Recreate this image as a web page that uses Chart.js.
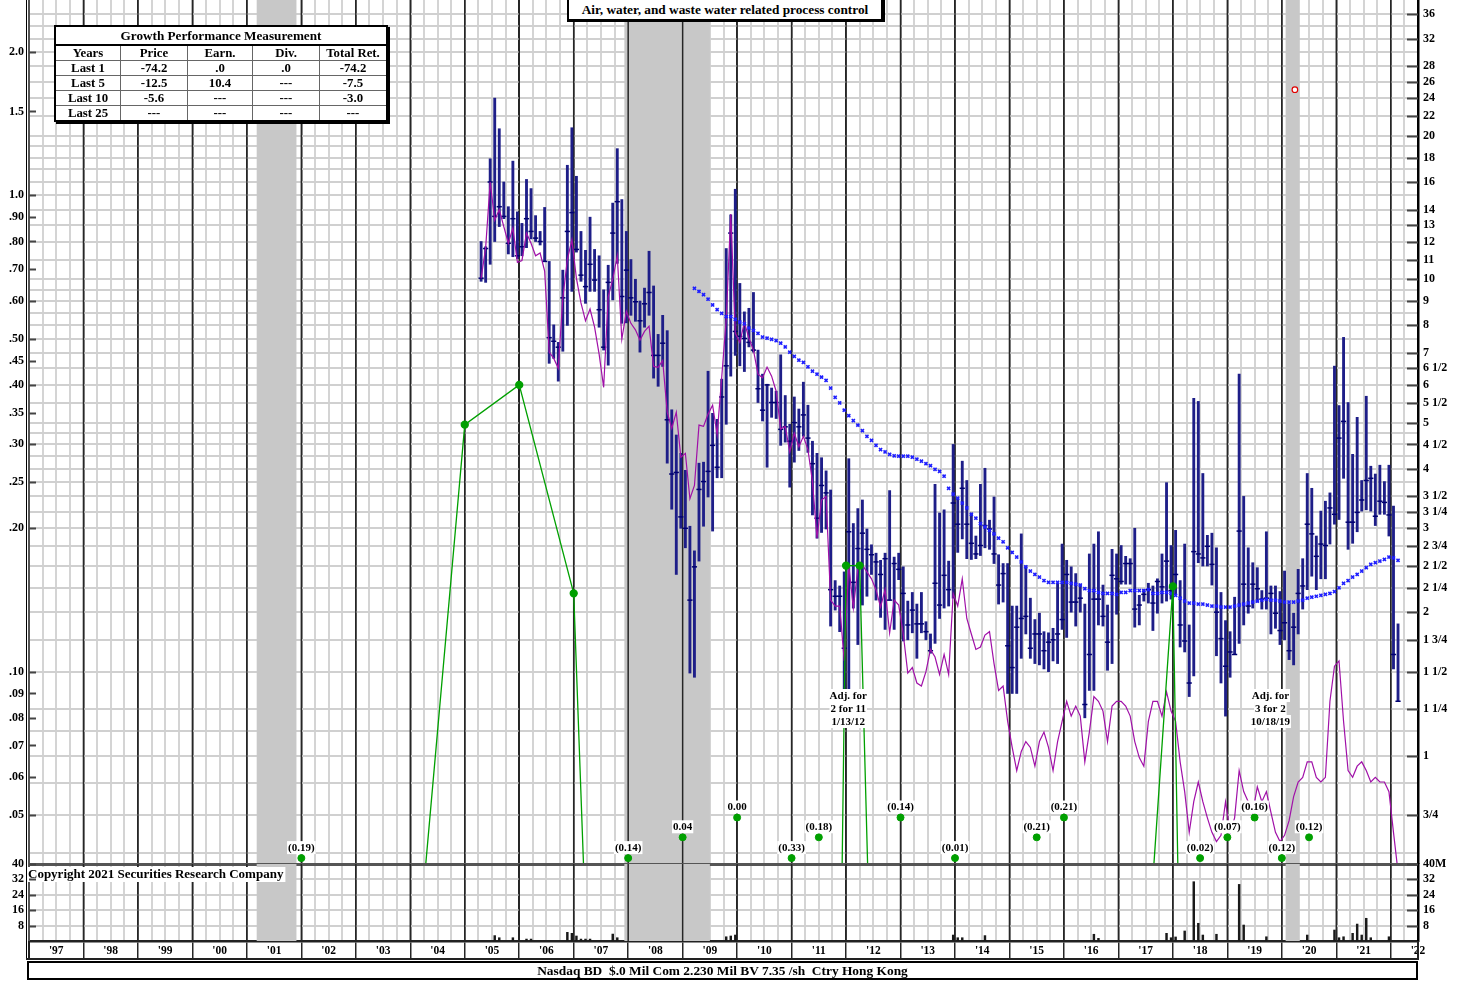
<!DOCTYPE html>
<html>
<head>
<meta charset="utf-8">
<script src="https://cdn.jsdelivr.net/npm/chart.js@4.4.0/dist/chart.umd.min.js"></script>
<style>
body { margin: 0; background: #fff; width: 1470px; height: 983px; overflow: hidden; position: relative; font-family: "Liberation Serif", "Times New Roman", serif; }
#price { position: absolute; left: 0; top: 0; }
#vol { position: absolute; left: 0; top: 850px; }
#title { position: absolute; left: 567px; top: -3px; width: 312px; height: 20px; border: 2px solid #000; border-right-width: 4px; border-bottom-width: 3px; background: #fff; font-weight: bold; font-size: 13.3px; text-align: center; line-height: 22px; }
#perf { position: absolute; left: 54px; top: 25px; border-collapse: collapse; background: #fff; font-weight: bold; font-size: 12.8px; border: 2px solid #000; box-shadow: 2px 2px 0 #000; }
#perf td { border: 1.5px solid #666; padding: 0; height: 14px; line-height: 14px; text-align: center; }
#perf td.head { height: 17px; line-height: 17px; font-size: 13.2px; border-bottom: 2px solid #000; }
#footer { position: absolute; left: 27px; top: 961px; width: 1387px; height: 15px; border: 2px solid #000; font-weight: bold; font-size: 13.4px; text-align: center; line-height: 16px; white-space: pre; }
</style>
</head>
<body>
<canvas id="price" width="1470" height="864"></canvas>
<canvas id="vol" width="1470" height="133"></canvas>
<div id="title">Air, water, and waste water related process control</div>
<table id="perf"></table>
<div id="footer">Nasdaq BD  $.0 Mil Com 2.230 Mil BV 7.35 /sh  Ctry Hong Kong</div>
<script>
// monthly bars start at Apr 2005
const firstMonth = 2005.30;

const priceHigh = [
  12.0, 11.7, 17.9, 24.0, 20.7, 16.0, 14.2, 17.7, 13.85, 13.1,
  16.2, 15.5, 13.6, 12.6, 14.15, 10.9, 8.02, 7.37, 10.45, 17.35,
  20.8, 16.45, 12.6, 11.5, 13.5, 11.55, 11.2, 9.5, 10.7, 14.45,
  18.8, 14.7, 12.6, 11.0, 10.0, 9.0, 9.58, 11.45, 9.68, 7.66,
  8.4, 7.8, 5.32, 4.71, 4.31, 3.97, 3.03, 2.69, 4.11, 4.13,
  6.41, 5.23, 5.08, 6.17, 11.6, 13.65, 15.45, 9.8, 8.54, 8.69,
  9.38, 7.1, 6.32, 6.02, 5.91, 5.82, 6.94, 5.7, 4.96, 5.66,
  5.34, 6.08, 5.44, 4.57, 4.31, 4.22, 3.96, 3.61, 2.33, 2.27,
  2.43, 4.2, 3.07, 3.3, 3.44, 2.99, 2.77, 2.66, 2.57, 2.66,
  3.6, 2.61, 2.66, 2.49, 2.11, 2.2, 2.08, 2.2, 1.91, 1.8,
  3.71, 3.23, 3.28, 2.56, 4.5, 3.47, 4.15, 3.78, 3.23, 2.89,
  3.71, 4.01, 3.12, 3.49, 2.64, 2.53, 2.53, 2.06, 2.06, 2.92,
  2.5, 2.14, 1.93, 1.99, 1.82, 1.81, 1.85, 2.3, 2.78, 2.57,
  2.49, 2.41, 2.29, 2.08, 2.65, 2.78, 2.95, 2.28, 2.07, 2.71,
  2.65, 2.76, 2.62, 2.59, 3.0, 2.17, 2.23, 2.3, 2.27, 2.35,
  2.65, 3.74, 2.76, 2.97, 2.33, 2.78, 1.88, 5.62, 5.54, 3.91,
  2.9, 2.93, 2.73, 2.2, 1.92, 1.82, 2.15, 6.32, 3.5, 2.73,
  2.54, 2.48, 2.22, 2.95, 2.27, 2.27, 2.21, 2.44, 2.08, 1.99,
  2.46, 2.59, 3.91, 3.64, 2.89, 3.26, 3.42, 3.56, 6.57, 5.43,
  7.55, 5.51, 4.29, 5.13, 3.78, 5.68, 4.05, 3.9, 4.07, 3.76,
  4.07, 3.34, 1.89
];
const priceLow = [
  9.9, 9.85, 10.75, 12.0, 12.9, 13.4, 11.3, 11.15, 11.05, 11.2,
  11.65, 12.15, 12.0, 11.8, 10.9, 6.66, 6.82, 6.11, 7.06, 8.0,
  9.43, 11.4, 9.9, 8.9, 9.43, 9.43, 7.93, 7.1, 6.6, 9.05,
  10.8, 8.08, 8.1, 8.4, 8.16, 7.03, 7.93, 8.4, 6.2, 5.96,
  6.56, 4.11, 3.29, 2.4, 3.0, 2.73, 1.49, 1.46, 2.56, 3.03,
  3.49, 2.96, 3.83, 3.83, 4.96, 6.26, 6.92, 6.58, 6.4, 7.21,
  7.03, 5.51, 5.04, 4.03, 5.13, 5.1, 4.48, 4.55, 3.66, 4.13,
  4.37, 4.68, 4.33, 3.2, 2.86, 2.94, 2.99, 1.87, 2.02, 1.82,
  1.37, 1.37, 2.04, 1.71, 2.07, 2.16, 2.4, 2.12, 1.95, 1.84,
  2.12, 1.84, 2.34, 1.74, 1.75, 1.81, 1.6, 1.81, 1.75, 1.64,
  1.72, 1.94, 2.04, 2.06, 2.14, 2.67, 2.85, 2.59, 2.58, 2.59,
  2.63, 2.73, 2.71, 2.53, 2.08, 2.1, 1.35, 1.35, 1.35, 1.6,
  1.8, 1.6, 1.56, 1.55, 1.52, 1.5, 1.58, 1.56, 1.84, 1.77,
  2.0, 1.87, 2.0, 1.2, 1.37, 1.37, 1.88, 1.87, 1.51, 1.56,
  1.98, 2.29, 2.29, 2.29, 1.86, 1.88, 2.11, 2.09, 1.83, 1.99,
  2.09, 2.11, 2.13, 2.18, 1.69, 1.65, 1.33, 1.47, 2.54, 2.5,
  2.5, 2.28, 1.62, 1.42, 1.21, 1.46, 1.63, 1.72, 1.88, 1.99,
  2.04, 2.1, 2.03, 2.03, 1.8, 1.85, 1.71, 1.75, 1.59, 1.55,
  1.8, 2.03, 2.23, 2.38, 2.23, 2.35, 2.35, 2.78, 3.06, 3.13,
  3.82, 2.71, 2.79, 2.95, 3.26, 3.28, 3.26, 3.04, 3.21, 3.21,
  2.89, 1.52, 1.3
];
const priceClose = [
  10.05, 11.6, 16.0, 13.55, 14.2, 13.55, 11.9, 13.4, 11.2, 11.7,
  13.4, 12.6, 12.2, 12.0, 10.9, 7.54, 7.41, 7.2, 9.14, 12.6,
  13.8, 11.55, 10.2, 9.65, 10.75, 9.96, 8.63, 7.2, 9.85, 12.5,
  14.55, 9.2, 10.45, 9.14, 8.97, 8.18, 8.88, 9.38, 6.92, 6.92,
  7.34, 5.07, 3.9, 3.93, 3.17, 3.0, 2.12, 2.49, 3.62, 3.76,
  3.95, 4.48, 4.03, 5.66, 6.58, 12.5, 7.77, 7.59, 7.51, 7.37,
  7.1, 5.89, 5.31, 6.0, 5.51, 5.51, 4.84, 4.9, 4.57, 5.0,
  4.9, 5.19, 4.64, 4.1, 3.15, 3.69, 3.56, 2.23, 2.16, 2.16,
  1.68, 2.95, 2.31, 2.72, 2.93, 2.71, 2.64, 2.55, 2.4, 2.59,
  2.12, 2.53, 2.46, 2.19, 1.88, 2.02, 1.89, 1.89, 1.82, 1.66,
  2.3, 2.07, 2.39, 2.23, 3.39, 3.06, 3.64, 3.06, 2.79, 2.65,
  2.76, 3.04, 2.99, 2.65, 2.28, 2.41, 1.7, 1.53, 1.86, 1.94,
  1.96, 1.68, 1.8, 1.8, 1.66, 1.73, 1.75, 1.8, 1.93, 2.4,
  2.1, 2.1, 2.14, 1.28, 1.63, 2.13, 2.13, 1.96, 1.73, 2.39,
  2.35, 2.32, 2.53, 2.53, 2.03, 2.07, 2.18, 2.23, 2.09, 2.32,
  2.26, 2.56, 2.22, 2.4, 1.88, 1.74, 1.42, 2.68, 2.65, 2.6,
  2.75, 2.52, 2.0, 1.76, 1.54, 1.65, 1.63, 2.96, 2.29, 2.06,
  2.29, 2.24, 2.13, 2.14, 2.19, 1.99, 1.83, 1.9, 1.66, 1.86,
  2.19, 2.27, 3.06, 2.92, 2.62, 2.78, 2.76, 3.31, 3.21, 4.64,
  5.03, 3.09, 3.09, 3.24, 3.44, 3.78, 3.82, 3.18, 3.42, 3.4,
  3.2, 1.63, 1.3
];
// relative strength line, same months
const relStrength = [
  10.04, 11.64, 16.0, 13.3, 14.0, 12.9, 11.9, 12.8, 10.85, 10.95,
  12.5, 11.9, 11.2, 11.35, 10.4, 7.03, 6.82, 6.5, 9.12, 11.0,
  12.1, 10.04, 8.92, 8.18, 8.66, 7.93, 6.96, 5.93, 9.18, 10.0,
  11.2, 7.48, 8.56, 8.08, 7.83, 7.45, 7.77, 7.97, 6.56, 6.53,
  6.75, 5.26, 4.86, 5.26, 4.23, 4.31, 3.46, 3.69, 4.94, 4.91,
  5.21, 5.44, 4.72, 6.21, 8.24, 13.7, 7.7, 7.37, 8.12, 7.52,
  7.1, 6.32, 6.21, 6.54, 6.26, 5.82, 4.85, 4.91, 4.34, 4.75,
  4.45, 4.68, 4.39, 3.76, 2.86, 3.44, 3.5, 2.12, 2.06, 2.06,
  1.58, 2.51, 2.04, 2.47, 2.51, 2.43, 2.35, 2.23, 2.05, 2.23,
  1.81, 2.12, 2.07, 1.8, 1.49, 1.53, 1.42, 1.4, 1.5, 1.67,
  1.61, 1.48, 1.63, 1.48, 2.19, 2.06, 2.35, 1.94, 1.8, 1.67,
  1.69, 1.79, 1.82, 1.56, 1.37, 1.4, 1.18, 1.04, 0.93, 1.02,
  1.07, 1.04, 0.95, 1.07, 1.12, 1.04, 0.93, 1.07, 1.18, 1.3,
  1.21, 1.27, 1.21, 0.97, 1.12, 1.33, 1.3, 1.24, 1.07, 1.27,
  1.3, 1.3, 1.27, 1.21, 1.07, 0.99, 0.95, 1.18, 1.3, 1.3,
  1.21, 1.36, 1.24, 1.18, 0.97, 0.84, 0.69, 0.8, 0.88, 0.8,
  0.74, 0.69, 0.66, 0.68, 0.8, 0.69, 0.74, 0.93, 0.84, 0.8,
  0.76, 0.86, 0.8, 0.84, 0.76, 0.69, 0.66, 0.68, 0.73, 0.82,
  0.88, 0.9, 0.97, 0.97, 0.9, 0.88, 0.9, 1.3, 1.54, 1.58,
  1.18, 0.93, 0.9, 0.95, 0.97, 0.93, 0.88, 0.9, 0.88, 0.88,
  0.84, 0.69, 0.57
];
// moving average (blue x), starts at month index 47
const maStart = 47;
const movingAvg = [
  9.57, 9.43, 9.28, 9.08, 8.83, 8.63, 8.48, 8.35, 8.35, 8.24,
  8.13, 8.06, 7.9, 7.81, 7.7, 7.56, 7.52, 7.48, 7.43, 7.34,
  7.21, 7.03, 6.89, 6.76, 6.69, 6.55, 6.41, 6.32, 6.23, 6.13,
  5.91, 5.65, 5.5, 5.31, 5.17, 5.05, 4.94, 4.81, 4.68, 4.59,
  4.48, 4.39, 4.34, 4.29, 4.26, 4.25, 4.25, 4.25, 4.23, 4.19,
  4.15, 4.1, 4.06, 3.99, 3.95, 3.86, 3.64, 3.54, 3.47, 3.39,
  3.31, 3.21, 3.15, 3.07, 3.02, 2.97, 2.92, 2.86, 2.81, 2.73,
  2.67, 2.61, 2.55, 2.49, 2.44, 2.4, 2.37, 2.33, 2.31, 2.31,
  2.31, 2.31, 2.31, 2.3, 2.29, 2.28, 2.24, 2.22, 2.22, 2.2,
  2.19, 2.19, 2.19, 2.18, 2.2, 2.2, 2.22, 2.22, 2.22, 2.22,
  2.23, 2.19, 2.19, 2.2, 2.2, 2.19, 2.17, 2.14, 2.11, 2.09,
  2.09, 2.08, 2.08, 2.07, 2.06, 2.06, 2.05, 2.05, 2.05, 2.06,
  2.07, 2.08, 2.09, 2.1, 2.11, 2.12, 2.13, 2.12, 2.12, 2.11,
  2.1, 2.1, 2.1, 2.11, 2.12, 2.14, 2.15, 2.16, 2.17, 2.18,
  2.19, 2.21, 2.25, 2.3, 2.33, 2.37, 2.4, 2.44, 2.48, 2.52,
  2.54, 2.56, 2.58, 2.61, 2.6, 2.57
];
// volume (millions of shares), only visible bars
const volMonth = [3, 4, 7, 10, 11, 19, 20, 21, 22, 23, 24, 29, 30, 54, 55, 56, 104, 105, 106, 111, 135, 136, 151, 152, 153, 155, 157, 158, 159, 162, 167, 168, 173, 182, 188, 189, 190, 192, 193, 194, 195, 196, 200];
const volMil = [2.8, 1.7, 1.7, 1.0, 1.0, 4.5, 4.0, 2.6, 1.0, 1.0, 1.0, 3.6, 1.7, 2.2, 2.6, 3.1, 3.1, 1.7, 1.7, 2.8, 3.5, 1.4, 4.0, 1.7, 2.1, 5.2, 30.8, 9.2, 3.1, 3.5, 29.4, 8.3, 2.2, 3.1, 5.7, 1.7, 2.2, 4.0, 8.8, 3.1, 11.8, 1.7, 2.2];

// earnings line (left scale); values under the scale floor run off the bottom
const epsLineYears = [2004.0, 2005.0, 2006.0, 2007.0, 2008.0, 2011.5, 2012.0, 2012.25, 2012.5, 2017.5, 2018.0, 2018.5];
const epsLineValues = [0.017, 0.33, 0.40, 0.146, 0.0001, 0.000007, 0.167, 0.167, 0.014, 0.022, 0.151, 0.00009];
// earnings notes shown at the bottom of the price panel
const epsYears = [2002.0, 2008.0, 2009.0, 2010.0, 2011.0, 2011.5, 2013.0, 2014.0, 2015.5, 2016.0, 2018.5, 2019.0, 2019.5, 2020.0, 2020.5];
const epsLabels = ['(0.19)', '(0.14)', '0.04', '0.00', '(0.33)', '(0.18)', '(0.14)', '(0.01)', '(0.21)', '(0.21)', '(0.02)', '(0.07)', '(0.16)', '(0.12)', '(0.12)'];
const epsLane = [0, 0, 1, 2, 0, 1, 2, 0, 1, 2, 0, 1, 2, 0, 1];

const recStart = [2001.18, 2007.93, 2020.07];
const recEnd = [2001.91, 2009.50, 2020.33];

const markYears = [2020.24];
const markValues = [25.0];

const splitYears = [2012.04, 2019.79];
const splitText = [['Adj. for', '2 for 11', '1/13/12'], ['Adj. for', '3 for 2', '10/18/19']];

const leftTickValues = [2.0, 1.5, 1.0, 0.9, 0.8, 0.7, 0.6, 0.5, 0.45, 0.4, 0.35, 0.3, 0.25, 0.2, 0.1, 0.09, 0.08, 0.07, 0.06, 0.05];
const leftTickLabels = ['2.0', '1.5', '1.0', '.90', '.80', '.70', '.60', '.50', '.45', '.40', '.35', '.30', '.25', '.20', '.10', '.09', '.08', '.07', '.06', '.05'];
const rightTickValues = [36, 32, 28, 26, 24, 22, 20, 18, 16, 14, 13, 12, 11, 10, 9, 8, 7, 6.5, 6, 5.5, 5, 4.5, 4, 3.5, 3.25, 3, 2.75, 2.5, 2.25, 2, 1.75, 1.5, 1.25, 1, 0.75];
const rightTickLabels = ['36', '32', '28', '26', '24', '22', '20', '18', '16', '14', '13', '12', '11', '10', '9', '8', '7', '6 1/2', '6', '5 1/2', '5', '4 1/2', '4', '3 1/2', '3 1/4', '3', '2 3/4', '2 1/2', '2 1/4', '2', '1 3/4', '1 1/2', '1 1/4', '1', '3/4'];
const rightGridExtra = [34, 30, 19, 17, 15, 9.5, 8.5, 7.5, 4.75, 4.25, 3.75, 1.125, 0.875, 0.625];
const volTickValues = [8, 16, 24, 32, 40];

const perfYears = ['Last 1', 'Last 5', 'Last 10', 'Last 25'];
const perfPrice = ['-74.2', '-12.5', '-5.6', '---'];
const perfEarn = ['.0', '10.4', '---', '---'];
const perfDiv = ['.0', '---', '---', '---'];
const perfTotal = ['-74.2', '-7.5', '-3.0', '---'];

// ---- table
let html = '<tr><td class="head" colspan="5">Growth Performance Measurement</td></tr>';
html += '<tr><td style="width:64px">Years</td><td style="width:66px">Price</td><td style="width:64px">Earn.</td><td style="width:66px">Div.</td><td style="width:66px">Total Ret.</td></tr>';
perfYears.forEach((y, i) => {
  html += `<tr><td>${y}</td><td>${perfPrice[i]}</td><td>${perfEarn[i]}</td><td>${perfDiv[i]}</td><td>${perfTotal[i]}</td></tr>`;
});
document.getElementById('perf').innerHTML = html;

// ---- helpers
const FONT = '"Liberation Serif", "Times New Roman", serif';
const AXIS_FONT = {family: FONT, size: 12, weight: 'bold', lineHeight: 0.01};
const xYear = k => firstMonth + k / 12;
const isYear = v => Math.abs(v - Math.round(v)) < 1e-6;
const isMid = v => Math.abs(v - Math.floor(v) - 0.5) < 1e-6;
const quarterTicks = [];
for (let q = 0; q <= 102; q++) quarterTicks.push(1997 + q * 0.25);
const epsLaneValue = [0.0406, 0.0449, 0.0494];

const gridColor = c => isYear(c.tick.value) ? '#262626' : '#d4d4d4';
const gridWidth = c => isYear(c.tick.value) ? 1.5 : 2;

function noPad(s) {
  s.paddingTop = 0; s.paddingBottom = 0; s.paddingLeft = 0; s.paddingRight = 0;
}

function boxedText(ctx, text, cx, cy, font) {
  ctx.font = font;
  const w = ctx.measureText(text).width;
  ctx.fillStyle = '#fff';
  ctx.fillRect(cx - w / 2 - 1, cy - 7, w + 2, 13);
  ctx.fillStyle = '#000';
  ctx.textAlign = 'center';
  ctx.textBaseline = 'middle';
  ctx.fillText(text, cx, cy);
}

function shadeRecessions(chart) {
  const {ctx, chartArea: a, scales: {x}} = chart;
  ctx.save();
  ctx.fillStyle = '#c8c8c8';
  recStart.forEach((s, i) => {
    const x0 = x.getPixelForValue(s);
    const x1 = x.getPixelForValue(recEnd[i]);
    ctx.fillRect(x0, a.top, x1 - x0, a.bottom - a.top);
  });
  ctx.strokeStyle = '#262626';
  ctx.lineWidth = 1.5;
  for (let yr = 1998; yr <= 2022; yr++) {
    const px = x.getPixelForValue(yr);
    ctx.beginPath();
    ctx.moveTo(px, a.top);
    ctx.lineTo(px, a.bottom);
    ctx.stroke();
  }
  ctx.restore();
}

function inwardTicks(ctx, scale, values, side, a, len) {
  ctx.save();
  ctx.strokeStyle = '#444';
  ctx.lineWidth = 2;
  values.forEach(v => {
    const py = Math.round(scale.getPixelForValue(v)) + 0.5;
    ctx.beginPath();
    if (side === 'left') { ctx.moveTo(a.left, py); ctx.lineTo(a.left + len, py); }
    else { ctx.moveTo(a.right - len, py); ctx.lineTo(a.right, py); }
    ctx.stroke();
  });
  ctx.restore();
}

const priceDecor = {
  id: 'priceDecor',
  beforeDatasetsDraw(chart) { shadeRecessions(chart); },
  afterDatasetsDraw(chart) {
    const {ctx, scales: {x, yE}} = chart;
    ctx.save();
    const f = 'bold 11px ' + FONT;
    epsYears.forEach((yr, i) => {
      const px = x.getPixelForValue(yr);
      const py = yE.getPixelForValue(epsLaneValue[epsLane[i]]);
      boxedText(ctx, epsLabels[i], px, py - 10, f);
    });
    splitYears.forEach((yr, i) => {
      const px = x.getPixelForValue(yr);
      splitText[i].forEach((t, j) => boxedText(ctx, t, px, 696 + j * 13, f));
    });
    ctx.restore();
  },
  afterDraw(chart) {
    const {ctx, chartArea: a, scales: {yE, yP}} = chart;
    inwardTicks(ctx, yE, leftTickValues, 'left', a, 7);
    inwardTicks(ctx, yP, rightTickValues, 'right', a, 11);
    ctx.save();
    ctx.strokeStyle = '#000';
    ctx.lineWidth = 1;
    ctx.beginPath();
    ctx.moveTo(26.5, 0);
    ctx.lineTo(26.5, a.bottom);
    ctx.stroke();
    ctx.restore();
  }
};

const priceChart = new Chart(document.getElementById('price'), {
  type: 'bar',
  data: {
    datasets: [
      {
        type: 'scatter', yAxisID: 'yE',
        data: epsYears.map((yr, i) => ({x: yr, y: epsLaneValue[epsLane[i]]})),
        pointRadius: 3.5, pointBackgroundColor: '#00a000', pointBorderColor: '#00a000'
      },
      {
        type: 'line', yAxisID: 'yE',
        data: epsLineYears.map((yr, i) => ({x: yr, y: epsLineValues[i]})),
        borderColor: '#00a000', borderWidth: 1.3,
        pointRadius: c => (c.raw && c.raw.y > 0.04 ? 3.5 : 0),
        pointBackgroundColor: '#00a000', pointBorderColor: '#00a000'
      },
      {
        type: 'scatter', yAxisID: 'yP',
        data: markYears.map((yr, i) => ({x: yr, y: markValues[i]})),
        pointRadius: 2.8, pointBorderColor: '#e00000', pointBackgroundColor: '#fff', pointBorderWidth: 1.2
      },
      {
        type: 'scatter', yAxisID: 'yP',
        data: movingAvg.map((v, i) => ({x: xYear(maStart + i), y: v})),
        pointStyle: 'crossRot', pointRadius: 2.2, pointBorderColor: '#1e1eff', pointBorderWidth: 1.6
      },
      {
        type: 'line', yAxisID: 'yP',
        data: relStrength.map((v, k) => ({x: xYear(k), y: v})),
        borderColor: '#a010a8', borderWidth: 1.2, pointRadius: 0
      },
      {
        type: 'scatter', yAxisID: 'yP',
        data: priceClose.map((v, k) => ({x: xYear(k), y: v})),
        pointStyle: 'line', pointRadius: 2.6, pointBorderColor: '#000070', pointBorderWidth: 1.5
      },
      {
        type: 'bar', yAxisID: 'yP',
        data: priceHigh.map((h, k) => ({x: xYear(k), y: [priceLow[k], h]})),
        backgroundColor: '#1e1e88', barThickness: 2.2, borderWidth: 0
      }
    ]
  },
  options: {
    responsive: false, animation: false, devicePixelRatio: 1,
    layout: {padding: 0, autoPadding: false},
    plugins: {legend: {display: false}, tooltip: {enabled: false}},
    scales: {
      x: {
        type: 'linear', min: 1997, max: 2022.5, offset: false,
        afterBuildTicks: s => { s.ticks = quarterTicks.map(v => ({value: v})); },
        afterFit: s => { s.height = 0; noPad(s); },
        ticks: {display: false},
        grid: {offset: false, drawTicks: false, color: gridColor, lineWidth: gridWidth},
        border: {display: true, color: '#555', width: 3}
      },
      yE: {
        type: 'logarithmic', position: 'left', min: 0.03946, max: 2.571,
        afterBuildTicks: s => { s.ticks = leftTickValues.map(v => ({value: v})); },
        afterFit: s => { s.width = 29; noPad(s); },
        grid: {drawOnChartArea: false, drawTicks: true, tickLength: 5, tickColor: 'rgba(0,0,0,0)'},
        border: {display: true, color: '#555', width: 2},
        ticks: {
          autoSkip: false, padding: 0, color: '#000', font: AXIS_FONT,
          callback: v => leftTickLabels[leftTickValues.indexOf(v)] || ''
        }
      },
      yP: {
        type: 'logarithmic', position: 'right', min: 0.592, max: 38.57,
        afterBuildTicks: s => { s.ticks = rightTickValues.concat(rightGridExtra).map(v => ({value: v})); },
        afterFit: s => { s.width = 52; noPad(s); },
        grid: {drawTicks: true, tickLength: 5, tickColor: 'rgba(0,0,0,0)', color: '#d0d0d0', lineWidth: 2},
        border: {display: true, color: '#000', width: 2.5},
        ticks: {
          autoSkip: false, padding: 0, color: '#000', font: AXIS_FONT,
          callback: v => { const i = rightTickValues.indexOf(v); return i >= 0 ? rightTickLabels[i] : ''; }
        }
      }
    }
  },
  plugins: [priceDecor]
});

const volDecor = {
  id: 'volDecor',
  beforeDatasetsDraw(chart) { shadeRecessions(chart); },
  afterDatasetsDraw(chart) {
    const {ctx, chartArea: a} = chart;
    ctx.save();
    ctx.font = 'bold 13px ' + FONT;
    const t = 'Copyright 2021 Securities Research Company';
    const w = ctx.measureText(t).width;
    ctx.fillStyle = '#fff';
    ctx.fillRect(a.left - 1, a.top + 3, w + 2, 15);
    ctx.fillStyle = '#000';
    ctx.textAlign = 'left';
    ctx.textBaseline = 'middle';
    ctx.fillText(t, a.left - 1, a.top + 11);
    ctx.restore();
  },
  afterDraw(chart) {
    const {ctx, chartArea: a, scales: {yV, yV2}} = chart;
    inwardTicks(ctx, yV, volTickValues, 'left', a, 7);
    inwardTicks(ctx, yV2, volTickValues, 'right', a, 11);
    ctx.save();
    ctx.strokeStyle = '#000';
    ctx.lineWidth = 1;
    ctx.beginPath();
    ctx.moveTo(26.5, a.top);
    ctx.lineTo(26.5, a.bottom + 18);
    ctx.stroke();
    ctx.lineWidth = 2;
    ctx.strokeStyle = '#222';
    ctx.beginPath();
    ctx.moveTo(26, a.bottom + 18);
    ctx.lineTo(a.right + 1, a.bottom + 18);
    ctx.moveTo(a.left, a.bottom);
    ctx.lineTo(a.left, a.bottom + 18);
    ctx.moveTo(a.right, a.bottom);
    ctx.lineTo(a.right, a.bottom + 18);
    ctx.stroke();
    ctx.restore();
  }
};

const volChart = new Chart(document.getElementById('vol'), {
  type: 'bar',
  data: {
    datasets: [{
      yAxisID: 'yV2',
      data: volMonth.map((k, i) => ({x: xYear(k), y: volMil[i]})),
      backgroundColor: '#1a1a1a', barThickness: 1.8, borderWidth: 0
    }]
  },
  options: {
    responsive: false, animation: false, devicePixelRatio: 1,
    layout: {padding: {top: 14, bottom: 24, left: 0, right: 0}, autoPadding: false},
    plugins: {legend: {display: false}, tooltip: {enabled: false}},
    scales: {
      x: {
        type: 'linear', min: 1997, max: 2022.5, offset: false,
        afterBuildTicks: s => { s.ticks = quarterTicks.map(v => ({value: v})); },
        afterFit: s => { s.height = 18; noPad(s); },
        ticks: {
          autoSkip: false, maxRotation: 0, padding: -15, color: '#000',
          font: {family: FONT, size: 11.5, weight: 'bold'},
          callback: v => isMid(v) ? "'" + String(Math.floor(v)).slice(2) : ''
        },
        grid: {
          offset: false, color: gridColor, lineWidth: gridWidth, tickLength: 18,
          tickColor: c => isYear(c.tick.value) ? '#262626' : 'rgba(0,0,0,0)', tickWidth: 1.5
        },
        border: {display: true, color: '#222', width: 2.5}
      },
      yV: {
        type: 'linear', position: 'left', min: 0, max: 40,
        afterBuildTicks: s => { s.ticks = volTickValues.map(v => ({value: v})); },
        afterFit: s => { s.width = 29; noPad(s); },
        grid: {drawOnChartArea: false, drawTicks: true, tickLength: 5, tickColor: 'rgba(0,0,0,0)'},
        border: {display: true, color: '#555', width: 2},
        ticks: {padding: 0, color: '#000', font: AXIS_FONT}
      },
      yV2: {
        type: 'linear', position: 'right', min: 0, max: 40,
        afterBuildTicks: s => { s.ticks = volTickValues.map(v => ({value: v})); },
        afterFit: s => { s.width = 52; noPad(s); },
        grid: {drawTicks: true, tickLength: 5, tickColor: 'rgba(0,0,0,0)', color: c => c.tick.value === 40 ? '#555' : '#d0d0d0', lineWidth: c => c.tick.value === 40 ? 3 : 2},
        border: {display: true, color: '#000', width: 2.5},
        ticks: {padding: 0, color: '#000', font: AXIS_FONT, callback: v => v === 40 ? '40M' : String(v)}
      }
    }
  },
  plugins: [volDecor]
});
</script>
</body>
</html>
